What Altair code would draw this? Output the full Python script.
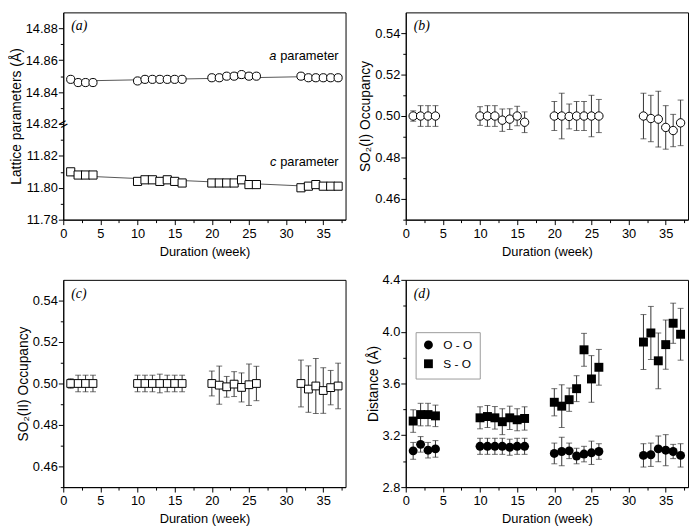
import altair as alt
import pandas as pd

# ---------------- data ----------------
weeks = [1, 2, 3, 4, 10, 11, 12, 13, 14, 15, 16, 20, 21, 22, 23, 24, 25, 26, 32, 33, 34, 35, 36, 37]

a_param = [14.848, 14.846, 14.846, 14.846, 14.847, 14.848, 14.848, 14.848, 14.848, 14.848, 14.848,
           14.849, 14.849, 14.850, 14.850, 14.851, 14.850, 14.850,
           14.850, 14.849, 14.849, 14.849, 14.849, 14.849]
c_param = [11.810, 11.808, 11.808, 11.808, 11.804, 11.805, 11.805, 11.804, 11.805, 11.804, 11.803,
           11.803, 11.803, 11.803, 11.803, 11.805, 11.802, 11.802,
           11.800, 11.801, 11.802, 11.801, 11.801, 11.801]
axis_break = [14.82]

occ1 = [0.500, 0.500, 0.500, 0.500, 0.500, 0.500, 0.500, 0.498, 0.4985, 0.500, 0.497,
        0.500, 0.500, 0.4998, 0.500, 0.500, 0.500, 0.500,
        0.500, 0.4988, 0.4985, 0.4945, 0.493, 0.4967]
occ1_err = [0.0025, 0.005, 0.005, 0.005, 0.0045, 0.005, 0.005, 0.0054, 0.005, 0.0047, 0.005,
            0.007, 0.011, 0.006, 0.007, 0.007, 0.010, 0.008,
            0.011, 0.0112, 0.0135, 0.0105, 0.0078, 0.011]

occ2 = [0.500, 0.500, 0.500, 0.500, 0.500, 0.500, 0.500, 0.500, 0.500, 0.500, 0.500,
        0.500, 0.4992, 0.4984, 0.4997, 0.4981, 0.4994, 0.500,
        0.500, 0.4973, 0.4988, 0.4966, 0.498, 0.4988]
occ2_err = [0.0023, 0.004, 0.004, 0.004, 0.004, 0.004, 0.004, 0.0045, 0.004, 0.004, 0.004,
            0.006, 0.0092, 0.005, 0.006, 0.007, 0.010, 0.0083,
            0.0113, 0.0112, 0.0133, 0.011, 0.0083, 0.011]

oo_dist = [3.08, 3.13, 3.085, 3.095, 3.115, 3.115, 3.115, 3.115, 3.108, 3.115, 3.115,
           3.06, 3.075, 3.08, 3.04, 3.055, 3.065, 3.075,
           3.045, 3.05, 3.095, 3.085, 3.075, 3.045]
oo_err = [0.065, 0.06, 0.06, 0.064, 0.062, 0.062, 0.062, 0.062, 0.062, 0.062, 0.062,
          0.08, 0.11, 0.06, 0.06, 0.06, 0.09, 0.06,
          0.09, 0.09, 0.1, 0.12, 0.055, 0.09]
so_dist = [3.31, 3.36, 3.36, 3.35, 3.335, 3.345, 3.335, 3.305, 3.335, 3.32, 3.33,
           3.455, 3.425, 3.475, 3.56, 3.86, 3.635, 3.725,
           3.92, 3.99, 3.775, 3.9, 4.065, 3.98]
so_err = [0.087, 0.087, 0.087, 0.083, 0.085, 0.085, 0.087, 0.1, 0.09, 0.085, 0.09,
          0.105, 0.165, 0.09, 0.1, 0.127, 0.18, 0.138,
          0.212, 0.205, 0.215, 0.19, 0.155, 0.2]

series_names = ["O - O", "S - O"]

# ---------------- styling helpers ----------------
FONT = "Liberation Sans"
SERIF = "Liberation Serif"
W, H = 286, 210
X_DOMAIN = [0, 38]
x_tick_values = [0, 2.5, 5, 7.5, 10, 12.5, 15, 17.5, 20, 22.5, 25, 27.5, 30, 32.5, 35, 37.5]


def x_enc():
    return alt.X(
        "week:Q",
        scale=alt.Scale(domain=X_DOMAIN, nice=False, zero=False),
        axis=alt.Axis(
            title="Duration (week)",
            values=x_tick_values,
            labelExpr="datum.value % 5 == 0 ? format(datum.value, 'd') : ''",
            tickSize={"condition": {"test": "datum.value % 5 == 0", "value": 5}, "value": 3},
            labelFlush=False, labelOverlap=False, labelPadding=3, titlePadding=5,
        ),
    )


def y_axis(title, values, major_test, label_expr):
    return alt.Axis(
        title=title, values=values, labelExpr=label_expr,
        tickSize={"condition": {"test": major_test, "value": 5}, "value": 3},
        labelFlush=False, labelOverlap=False, labelPadding=1, titlePadding=2,
        titleFontSize=14,
    )


def panel_label(txt):
    return alt.Chart(pd.DataFrame({"t": [txt]})).mark_text(
        font=SERIF, fontStyle="italic", fontSize=14, align="left", baseline="middle", color="black"
    ).encode(text="t:N", x=alt.value(8), y=alt.value(14))


# ---------------- panel (a): broken axis ----------------
df_a = pd.DataFrame({
    "week": weeks + weeks,
    "value": a_param + c_param,
    "series": ["a"] * len(weeks) + ["c"] * len(weeks),
})
a_y_values = [round(11.78 + i * 0.01, 2) for i in range(13)]
a_major = "abs(datum.value*50 - round(datum.value*50)) < 0.01"
a_label = ("abs(datum.value*50 - round(datum.value*50)) > 0.01 ? '' : "
           "format(datum.value > 11.835 ? datum.value + 2.98 : datum.value, '.2f')")
a_yscale = alt.Scale(domain=[11.78, 11.91], nice=False, zero=False)
a_yaxis = y_axis("Lattice parameters (Å)", a_y_values, a_major, a_label)

base_a = alt.Chart(df_a).transform_calculate(
    disp="datum.series == 'a' ? datum.value - 2.98 : datum.value"
)
fit_a = base_a.transform_regression("week", "disp", groupby=["series"]).mark_line(
    color="#555", strokeWidth=1
).encode(x=x_enc(), y=alt.Y("disp:Q", scale=a_yscale, axis=a_yaxis), detail="series:N")
pts_a = base_a.mark_point(
    filled=True, color="white", stroke="black", strokeWidth=1, size=68, opacity=1
).encode(
    x=x_enc(), y=alt.Y("disp:Q", scale=a_yscale, axis=a_yaxis),
    shape=alt.Shape("series:N", scale=alt.Scale(domain=["a", "c"], range=["circle", "square"]), legend=None),
)
brk = alt.Chart(pd.DataFrame({"value": axis_break, "week": [X_DOMAIN[0]]})).transform_calculate(
    disp="datum.value - 2.98"
).mark_text(text="=", fontSize=15, angle=330, color="black", font=FONT).encode(
    x=x_enc(), y=alt.Y("disp:Q", scale=a_yscale, axis=a_yaxis)
)


def annot(txt, x, y, italic=False, align="right"):
    return alt.Chart(pd.DataFrame({"t": [txt]})).mark_text(
        font=FONT, fontSize=13, fontStyle="italic" if italic else "normal",
        align=align, baseline="middle", color="black"
    ).encode(text="t:N", x=alt.value(x), y=alt.value(y))


pa = alt.layer(
    fit_a, pts_a, brk,
    annot("parameter", 279, 44), annot("a", 216, 44, italic=True),
    annot("parameter", 279, 152), annot("c", 216, 152, italic=True),
    panel_label("(a)"),
).properties(width=W, height=H)


# ---------------- panels (b), (c): occupancy ----------------
occ_values = [round(0.45 + i * 0.01, 2) for i in range(10)]
occ_major = "abs(datum.value*50 - round(datum.value*50)) < 0.01"
occ_label = "abs(datum.value*50 - round(datum.value*50)) > 0.01 ? '' : format(datum.value, '.2f')"


def occ_panel(vals, errs, shape, title, label):
    df = pd.DataFrame({"week": weeks, "v": vals, "e": errs})
    base = alt.Chart(df).transform_calculate(lo="datum.v - datum.e", hi="datum.v + datum.e")
    ys = alt.Scale(domain=[0.45, 0.55], nice=False, zero=False)
    ya = y_axis(title, occ_values, occ_major, occ_label)
    rule = base.mark_rule(color="#333", strokeWidth=1).encode(
        x=x_enc(), y=alt.Y("lo:Q", scale=ys, axis=ya), y2="hi:Q")
    cap_lo = base.mark_tick(orient="horizontal", size=6, thickness=1, color="#333").encode(
        x=x_enc(), y=alt.Y("lo:Q", scale=ys, axis=ya))
    cap_hi = base.mark_tick(orient="horizontal", size=6, thickness=1, color="#333").encode(
        x=x_enc(), y=alt.Y("hi:Q", scale=ys, axis=ya))
    pts = base.mark_point(
        shape=shape, filled=True, color="white", stroke="black", strokeWidth=1,
        size=72 if shape == "circle" else 62, opacity=1
    ).encode(x=x_enc(), y=alt.Y("v:Q", scale=ys, axis=ya))
    return alt.layer(rule, cap_lo, cap_hi, pts, panel_label(label)).properties(width=W, height=H)


pb = occ_panel(occ1, occ1_err, "circle", "SO₂(I) Occupancy", "(b)")
pc = occ_panel(occ2, occ2_err, "square", "SO₂(II) Occupancy", "(c)")

# ---------------- panel (d): distances ----------------
df_d = pd.DataFrame({
    "week": weeks + weeks,
    "v": oo_dist + so_dist,
    "e": oo_err + so_err,
    "series": [series_names[0]] * len(weeks) + [series_names[1]] * len(weeks),
})
d_values = [round(2.8 + i * 0.2, 1) for i in range(9)]
d_major = "abs(datum.value*2.5 - round(datum.value*2.5)) < 0.01"
d_label = "abs(datum.value*2.5 - round(datum.value*2.5)) > 0.01 ? '' : format(datum.value, '.1f')"
d_scale = alt.Scale(domain=[2.8, 4.4], nice=False, zero=False)
d_axis = y_axis("Distance (Å)", d_values, d_major, d_label)

base_d = alt.Chart(df_d).transform_calculate(lo="datum.v - datum.e", hi="datum.v + datum.e")
rule_d = base_d.mark_rule(color="#333", strokeWidth=1).encode(
    x=x_enc(), y=alt.Y("lo:Q", scale=d_scale, axis=d_axis), y2="hi:Q")
caplo_d = base_d.mark_tick(orient="horizontal", size=6, thickness=1, color="#333").encode(
    x=x_enc(), y=alt.Y("lo:Q", scale=d_scale, axis=d_axis))
caphi_d = base_d.mark_tick(orient="horizontal", size=6, thickness=1, color="#333").encode(
    x=x_enc(), y=alt.Y("hi:Q", scale=d_scale, axis=d_axis))
pts_d = base_d.mark_point(filled=True, color="black", size=82, opacity=1).encode(
    x=x_enc(), y=alt.Y("v:Q", scale=d_scale, axis=d_axis),
    shape=alt.Shape(
        "series:N",
        scale=alt.Scale(domain=series_names, range=["circle", "square"]),
        legend=alt.Legend(
            title=None, orient="none", legendX=10, legendY=53,
            strokeColor="#9a9a9a", fillColor="white", padding=7,
            labelFont=FONT, labelFontSize=12, labelColor="black", labelOffset=9,
            symbolSize=80, symbolFillColor="black", symbolStrokeColor="black",
            rowPadding=3,
        ),
    ),
)
pd_ = alt.layer(rule_d, caplo_d, caphi_d, pts_d, panel_label("(d)")).properties(width=W, height=H)

chart = alt.concat(
    pa, pb, pc, pd_, columns=2, spacing={"row": 61, "column": 61}, bounds="flush"
).resolve_scale(shape="independent").resolve_legend(shape="independent").properties(
    padding=0
).configure_axis(
    labelFont=FONT, titleFont=FONT, labelFontSize=13, titleFontSize=13,
    titleFontWeight="normal", labelColor="black", titleColor="black",
    domainColor="black", tickColor="black", grid=False, domainWidth=1, tickWidth=1,
).configure_view(stroke="black", strokeWidth=1)

chart.save("out.html", embed_options={"renderer": "svg", "actions": False})
